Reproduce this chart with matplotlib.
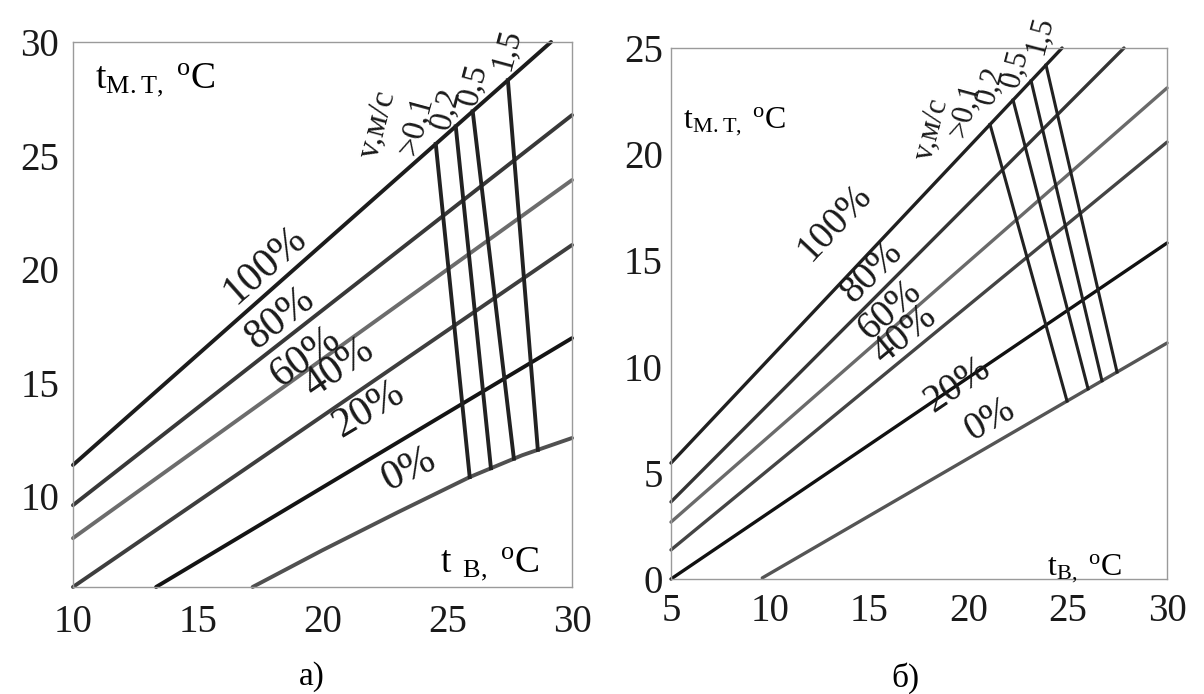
import numpy as np
import matplotlib
matplotlib.use('Agg')
import matplotlib.pyplot as plt

plt.rcParams['font.family'] = ['Liberation Serif', 'DejaVu Serif']
plt.rcParams['mathtext.default'] = 'regular'

# --- панель а): t_в от 10 до 30 °C ---
a_rh = ['100%', '80%', '60%', '40%', '20%', '0%']
a_x = [[10, 29.16], [10, 30], [10, 30], [10, 30], [13.33, 30],
       [17.2, 20, 23, 25.9, 28, 30]]
a_y = [[11.37, 30.0], [9.60, 26.78], [8.15, 23.92], [6.0, 21.06], [6.0, 16.96],
       [6.0, 7.62, 9.28, 10.84, 11.8, 12.56]]
a_colors = ['#1c1c1c', '#383838', '#6c6c6c', '#3e3e3e', '#141414', '#505050']
a_lbl_x = [17.71, 18.31, 19.32, 20.64, 21.85, 23.45]
a_lbl_y = [20.18, 17.84, 16.12, 15.64, 13.79, 11.15]

# скорость ветра: верхние точки на линии 100%, нижние на линии 0%
a_v_top = [24.54, 25.34, 26.02, 27.43]
a_v_bot = [25.90, 26.75, 27.67, 28.63]

# --- панель б): t_в от 5 до 30 °C ---
b_rh = ['100%', '80%', '60%', '40%', '20%', '0%']
b_x = [[5, 24.71], [5, 27.83], [5, 30], [5, 30], [5, 30], [9.6, 30]]
b_y = [[5.46, 25], [3.63, 25], [2.68, 23.12], [1.37, 20.57], [0, 15.82], [0.05, 11.11]]
b_colors = ['#202020', '#343434', '#6a6a6a', '#444444', '#111111', '#555555']
b_lbl_x = [13.27, 15.13, 16.04, 16.79, 19.42, 21.08]
b_lbl_y = [16.81, 14.45, 12.66, 11.49, 9.13, 7.49]

b_v_top = [21.08, 22.24, 23.15, 23.90]
b_v_bot = [24.96, 26.02, 26.72, 27.48]

v_labels = ['v,м/с', '>0,1', '0,2', '0,5', '1,5']
a_vlbl_x = [22.21, 23.73, 24.94, 26.02, 27.35]
a_vlbl_y = [26.34, 26.34, 27.09, 28.11, 29.65]
b_vlbl_x = [18.16, 19.82, 21.08, 22.34, 23.60]
b_vlbl_y = [21.14, 22.08, 23.26, 24.06, 25.61]


def nomogram(ax, xs, ys, colors, lw, v_top, v_bot, v_lw,
             lbl_x, lbl_y, rh, lbl_fs, vlbl_x, vlbl_y, v_fs):
    for x, y, c in zip(xs, ys, colors):
        ax.plot(x, y, color=c, lw=lw, solid_capstyle='round',
                solid_joinstyle='round', clip_on=False)

    # линии скорости ветра между кривыми 100% и 0%
    for xt, xb in zip(v_top, v_bot):
        yt = np.interp(xt, xs[0], ys[0])
        yb = np.interp(xb, xs[-1], ys[-1])
        ax.plot([xt, xb], [yt, yb], color='#222222', lw=v_lw, clip_on=False)

    # подписи относительной влажности вдоль линий
    for i, txt in enumerate(rh):
        x, y = np.array(xs[i], float), np.array(ys[i], float)
        k = np.searchsorted(x, lbl_x[i]) - 1
        k = min(max(k, 0), len(x) - 2)
        ang = np.degrees(np.arctan2(y[k + 1] - y[k], x[k + 1] - x[k]))
        rot = ax.transData.transform_angles(np.array([ang]),
                                            np.array([[lbl_x[i], lbl_y[i]]]))[0]
        ax.text(lbl_x[i], lbl_y[i], txt, fontsize=lbl_fs, rotation=rot,
                rotation_mode='anchor', ha='center', va='center', color='#1a1a1a')

    for x, y, txt in zip(vlbl_x, vlbl_y, v_labels):
        ax.text(x, y, txt, fontsize=v_fs, rotation=75, rotation_mode='anchor',
                ha='center', va='center', color='#1a1a1a', clip_on=False)

    for s in ax.spines.values():
        s.set_color('#9a9a9a')
        s.set_linewidth(1.0)
    ax.tick_params(length=0, labelsize=28, colors='#1a1a1a')


fig = plt.figure(figsize=(12.04, 6.94), dpi=100)

ax1 = fig.add_axes([0.0606, 0.1542, 0.4145, 0.7853])
ax1.set_xlim(10, 30)
ax1.set_ylim(6, 30)
ax1.set_xticks([10, 15, 20, 25, 30])
ax1.set_yticks([10, 15, 20, 25, 30])
nomogram(ax1, a_x, a_y, a_colors, 2.8, a_v_top, a_v_bot, 2.8,
         a_lbl_x, a_lbl_y, a_rh, 30, a_vlbl_x, a_vlbl_y, 24)
ax1.tick_params(axis='x', pad=12)
ax1.tick_params(axis='y', pad=10)
ax1.text(0.044, 0.916, r'$t_{М{.}Т{,}}\ ^{o}C$', transform=ax1.transAxes,
         fontsize=27, ha='left', va='baseline')
ax1.text(0.735, 0.028, r'$t\ _{В{,}}\ ^{o}C$', transform=ax1.transAxes,
         fontsize=27, ha='left', va='baseline')

ax2 = fig.add_axes([0.5573, 0.1657, 0.4120, 0.7651])
ax2.set_xlim(5, 30)
ax2.set_ylim(0, 25)
ax2.set_xticks([5, 10, 15, 20, 25, 30])
ax2.set_yticks([0, 5, 10, 15, 20, 25])
nomogram(ax2, b_x, b_y, b_colors, 2.4, b_v_top, b_v_bot, 2.2,
         b_lbl_x, b_lbl_y, b_rh, 28, b_vlbl_x, b_vlbl_y, 22)
ax2.tick_params(axis='x', pad=10)
ax2.tick_params(axis='y', pad=6)
ax2.text(0.024, 0.849, r'$t_{М{.}Т{,}}\ ^{o}C$', transform=ax2.transAxes,
         fontsize=23, ha='left', va='baseline')
ax2.text(0.758, 0.008, r'$t_{В{,}}\ ^{o}C$', transform=ax2.transAxes,
         fontsize=23, ha='left', va='baseline')

fig.text(312 / 1204, 1 - 677 / 694, 'а)', fontsize=24, ha='center', va='center')
fig.text(905 / 1204, 1 - 678 / 694, 'б)', fontsize=24, ha='center', va='center')

fig.savefig('out.png', dpi=100)
